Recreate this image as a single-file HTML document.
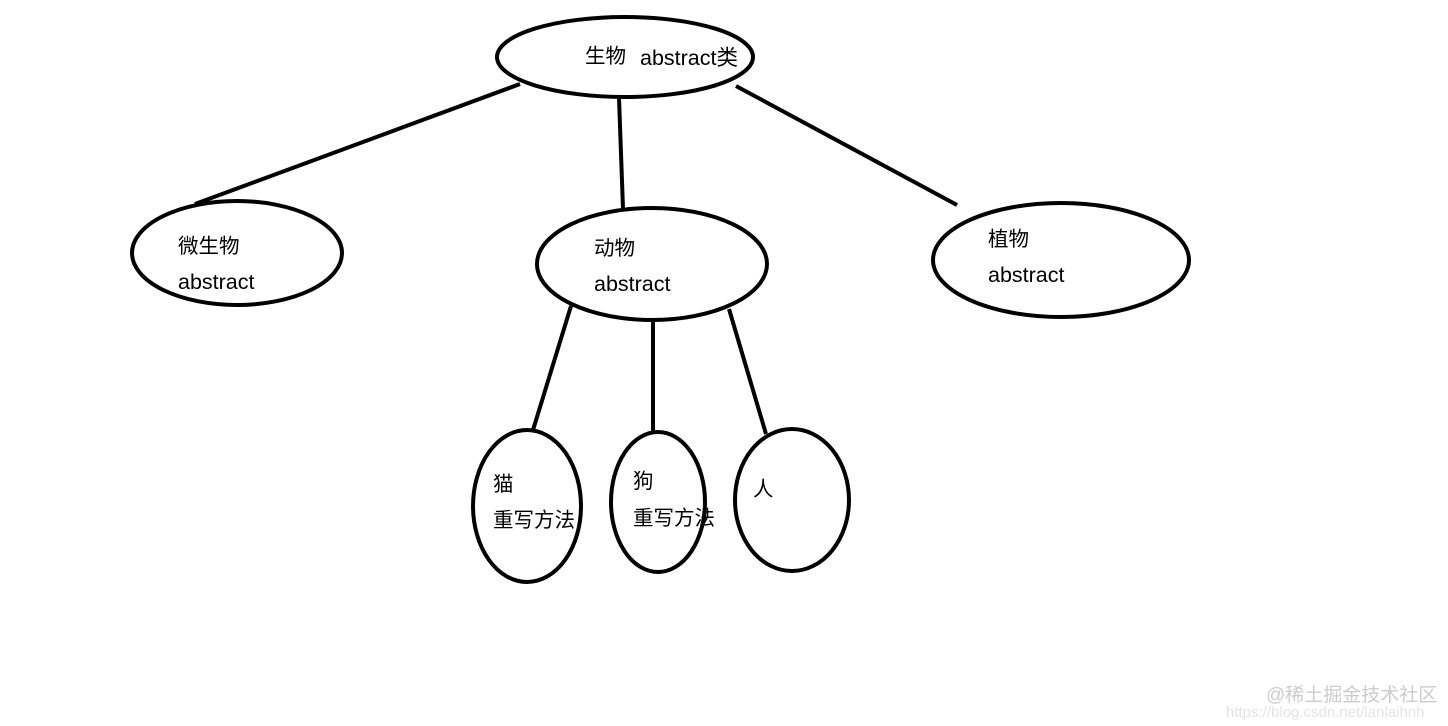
<!DOCTYPE html>
<html><head><meta charset="utf-8"><style>
html,body{margin:0;padding:0;background:#fff;width:1448px;height:726px;overflow:hidden}
text{font-family:"Liberation Sans","Noto Sans CJK SC",sans-serif;font-size:20.5px;fill:#000}
text.l{font-size:21.5px}
</style></head><body>
<svg width="1448" height="726" viewBox="0 0 1448 726" xmlns="http://www.w3.org/2000/svg">
<g stroke="#000" stroke-width="4" fill="none">
<line x1="520" y1="84" x2="195" y2="204"/>
<line x1="619" y1="98" x2="623" y2="209"/>
<line x1="736" y1="86" x2="957" y2="205"/>
<line x1="571" y1="306" x2="533" y2="430"/>
<line x1="653" y1="320" x2="653" y2="432"/>
<line x1="729" y1="309" x2="766" y2="434"/>
<ellipse cx="625" cy="57" rx="128" ry="40" fill="#fff"/>
<ellipse cx="237" cy="253" rx="105" ry="52" fill="#fff"/>
<ellipse cx="652" cy="264" rx="115" ry="56" fill="#fff"/>
<ellipse cx="1061" cy="260" rx="128" ry="57" fill="#fff"/>
<ellipse cx="527" cy="506" rx="54" ry="76" fill="#fff"/>
<ellipse cx="658" cy="502" rx="47" ry="70" fill="#fff"/>
<ellipse cx="792" cy="500" rx="57" ry="71" fill="#fff"/>
</g>
<text x="585" y="63">生物</text>
<text class="l" x="640" y="65">abstract类</text>
<text x="178" y="253">微生物</text>
<text class="l" x="178" y="289">abstract</text>
<text x="594" y="255">动物</text>
<text class="l" x="594" y="291">abstract</text>
<text x="988" y="246">植物</text>
<text class="l" x="988" y="282">abstract</text>
<text x="493" y="491">猫</text>
<text x="493" y="527">重写方法</text>
<text x="633" y="488">狗</text>
<text x="633" y="525">重写方法</text>
<text x="753" y="496">人</text>
<text x="1266" y="701" style="font-size:19px;fill:#ccc">@稀土掘金技术社区</text>
<text x="1226" y="717" style="font-size:15px;fill:#e4e4e4">https://blog.csdn.net/lanlaihnh</text>
</svg>
</body></html>
